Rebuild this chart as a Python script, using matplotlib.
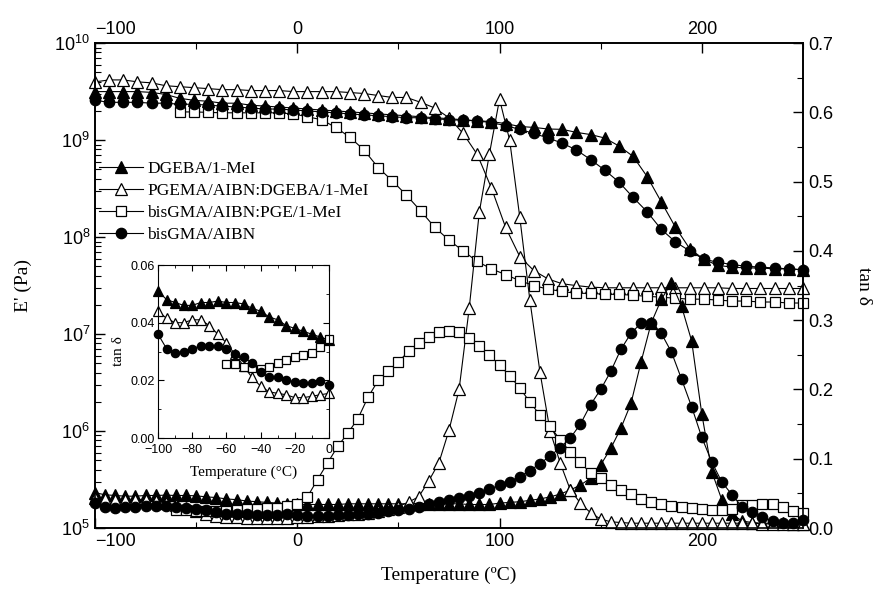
import matplotlib
matplotlib.use('Agg')
import matplotlib.pyplot as plt
from matplotlib.ticker import MultipleLocator, LogLocator, NullFormatter

plt.rcParams['font.family'] = ['Liberation Sans', 'DejaVu Sans']
plt.rcParams['mathtext.fontset'] = 'custom'
plt.rcParams['mathtext.rm'] = 'Liberation Sans'
SERIF = ['Liberation Serif', 'DejaVu Serif']

# temperature grids (deg C)
temp_mod = [-100, -93, -86, -79, -72, -65, -58, -51, -44, -37, -30, -23, -16, -9, -2,
            5, 12, 19, 26, 33, 40, 47, 54, 61, 68, 75, 82, 89, 96, 103, 110, 117, 124,
            131, 138, 145, 152, 159, 166, 173, 180, 187, 194, 201, 208, 215, 222, 229,
            236, 243, 250]
temp_tan = [-100, -95, -90, -85, -80, -75, -70, -65, -60, -55, -50, -45, -40, -35, -30,
            -25, -20, -15, -10, -5, 0, 5, 10, 15, 20, 25, 30, 35, 40, 45, 50, 55, 60,
            65, 70, 75, 80, 85, 90, 95, 100, 105, 110, 115, 120, 125, 130, 135, 140,
            145, 150, 155, 160, 165, 170, 175, 180, 185, 190, 195, 200, 205, 210, 215,
            220, 225, 230, 235, 240, 245, 250]
temp_mod_sq = temp_mod[6:]
temp_tan_sq = temp_tan[8:]

# storage modulus E' (Pa)
dgeba_E = [3.16e9, 3.16e9, 3.16e9, 3.16e9, 3.1e9, 2.95e9, 2.69e9, 2.57e9, 2.51e9, 2.40e9,
           2.40e9, 2.29e9, 2.24e9, 2.19e9, 2.14e9, 2.09e9, 2.04e9, 2.0e9, 1.95e9, 1.91e9,
           1.86e9, 1.82e9, 1.78e9, 1.74e9, 1.70e9, 1.66e9, 1.62e9, 1.58e9, 1.55e9, 1.48e9,
           1.38e9, 1.35e9, 1.30e9, 1.29e9, 1.20e9, 1.14e9, 1.05e9, 8.7e8, 6.8e8, 4.2e8,
           2.3e8, 1.26e8, 7.6e7, 5.9e7, 5.1e7, 4.9e7, 4.8e7, 4.8e7, 4.7e7, 4.7e7,
           4.6e7]
pgema_E = [3.98e9, 4.17e9, 4.17e9, 3.98e9, 3.89e9, 3.63e9, 3.55e9, 3.47e9, 3.39e9, 3.31e9,
           3.31e9, 3.24e9, 3.24e9, 3.24e9, 3.16e9, 3.16e9, 3.16e9, 3.16e9, 3.09e9, 3.02e9,
           2.88e9, 2.75e9, 2.75e9, 2.45e9, 2.14e9, 1.70e9, 1.17e9, 7.1e8, 3.2e8, 1.26e8,
           6.3e7, 4.5e7, 3.7e7, 3.3e7, 3.16e7, 3.05e7, 3.0e7, 3.0e7, 3.0e7, 3.0e7,
           3.0e7, 3.0e7, 3.0e7, 3.0e7, 3.0e7, 2.95e7, 2.95e7, 2.95e7, 2.95e7, 2.95e7,
           2.95e7]
bispge_E = [1.95e9, 1.95e9, 1.93e9, 1.91e9, 1.91e9, 1.91e9, 1.91e9, 1.91e9, 1.86e9,
            1.74e9, 1.62e9, 1.35e9, 1.07e9, 7.9e8, 5.2e8, 3.8e8, 2.7e8, 1.86e8, 1.26e8,
            9.3e7, 7.2e7, 5.6e7, 4.7e7, 4.1e7, 3.55e7, 3.16e7, 2.9e7, 2.75e7, 2.63e7,
            2.63e7, 2.57e7, 2.57e7, 2.51e7, 2.45e7, 2.40e7, 2.34e7, 2.29e7, 2.29e7, 2.24e7,
            2.19e7, 2.19e7, 2.14e7, 2.14e7, 2.09e7, 2.09e7]
bis_E = [2.57e9, 2.45e9, 2.45e9, 2.45e9, 2.40e9, 2.40e9, 2.34e9, 2.34e9, 2.29e9, 2.24e9,
         2.19e9, 2.14e9, 2.09e9, 2.09e9, 2.04e9, 2.0e9, 1.95e9, 1.91e9, 1.86e9, 1.82e9,
         1.78e9, 1.74e9, 1.70e9, 1.70e9, 1.66e9, 1.62e9, 1.60e9, 1.58e9, 1.51e9, 1.41e9,
         1.29e9, 1.17e9, 1.05e9, 9.3e8, 7.9e8, 6.3e8, 4.9e8, 3.7e8, 2.57e8, 1.82e8,
         1.20e8, 8.9e7, 7.2e7, 5.9e7, 5.5e7, 5.2e7, 5.0e7, 4.9e7, 4.8e7, 4.7e7,
         4.6e7]

# loss factor tan delta
dgeba_tan = [0.051, 0.048, 0.047, 0.046, 0.046, 0.047, 0.047, 0.0475, 0.047, 0.047,
             0.0465, 0.045, 0.044, 0.042, 0.041, 0.039, 0.038, 0.037, 0.036, 0.035, 0.034,
             0.034, 0.034, 0.034, 0.034, 0.035, 0.035, 0.035, 0.035, 0.035, 0.035,
             0.035, 0.035, 0.035, 0.035, 0.035, 0.035, 0.034, 0.034, 0.034, 0.036,
             0.037, 0.038, 0.040, 0.042, 0.045, 0.049, 0.055, 0.062, 0.072, 0.091,
             0.115, 0.144, 0.18, 0.24, 0.296, 0.33, 0.354, 0.32, 0.27, 0.165,
             0.081, 0.040, 0.020, 0.010, 0.008, 0.007, 0.007, 0.007, 0.006, 0.006]
pgema_tan = [0.044, 0.0415, 0.040, 0.040, 0.041, 0.041, 0.039, 0.036, 0.033, 0.029,
             0.025, 0.021, 0.018, 0.016, 0.0155, 0.015, 0.014, 0.014, 0.0145, 0.015, 0.0155,
             0.016, 0.017, 0.018, 0.019, 0.020, 0.021, 0.022, 0.024, 0.027, 0.031,
             0.0375, 0.045, 0.068, 0.094, 0.141, 0.20, 0.317, 0.456, 0.54, 0.619,
             0.56, 0.449, 0.329, 0.225, 0.14, 0.094, 0.055, 0.036, 0.022, 0.013,
             0.009, 0.008, 0.007, 0.007, 0.007, 0.007, 0.007, 0.007, 0.007, 0.007,
             0.007, 0.007, 0.007, 0.007, 0.007, 0.006, 0.006, 0.006, 0.006, 0.006]
bispge_tan = [0.0257, 0.0257, 0.0246, 0.0243, 0.024, 0.0246, 0.026, 0.027, 0.028, 0.0288,
              0.0295, 0.0316, 0.0343,
              0.045, 0.07, 0.094, 0.118, 0.137, 0.158, 0.189, 0.213, 0.227, 0.24,
              0.255, 0.267, 0.276, 0.283, 0.285, 0.283, 0.275, 0.263, 0.25, 0.235,
              0.22, 0.202, 0.182, 0.163, 0.147, 0.127, 0.11, 0.095, 0.079, 0.072,
              0.062, 0.055, 0.049, 0.042, 0.037, 0.035, 0.032, 0.030, 0.029, 0.027,
              0.026, 0.026, 0.027, 0.033, 0.033, 0.034, 0.035, 0.030, 0.024, 0.022]
bis_tan = [0.036, 0.031, 0.0295, 0.030, 0.031, 0.032, 0.032, 0.032, 0.031, 0.029,
           0.028, 0.026, 0.023, 0.021, 0.021, 0.020, 0.0195, 0.019, 0.019, 0.0198, 0.0184,
           0.018, 0.018, 0.018, 0.019, 0.019, 0.020, 0.021, 0.022, 0.024, 0.026,
           0.028, 0.030, 0.034, 0.037, 0.040, 0.043, 0.046, 0.050, 0.056, 0.062,
           0.067, 0.074, 0.083, 0.093, 0.104, 0.116, 0.130, 0.150, 0.178, 0.200,
           0.226, 0.258, 0.281, 0.296, 0.296, 0.281, 0.254, 0.215, 0.175, 0.131,
           0.095, 0.066, 0.048, 0.030, 0.023, 0.016, 0.010, 0.007, 0.007, 0.011]

labels = ['DGEBA/1-MeI', 'PGEMA/AIBN:DGEBA/1-MeI', 'bisGMA/AIBN:PGE/1-MeI', 'bisGMA/AIBN']
styles = [dict(marker='^', ms=9, mfc='black'),
          dict(marker='^', ms=9, mfc='white'),
          dict(marker='s', ms=7, mfc='white'),
          dict(marker='o', ms=7.5, mfc='black')]
mod_data = [(temp_mod, dgeba_E), (temp_mod, pgema_E), (temp_mod_sq, bispge_E), (temp_mod, bis_E)]
tan_data = [(temp_tan, dgeba_tan), (temp_tan, pgema_tan), (temp_tan_sq, bispge_tan), (temp_tan, bis_tan)]

fig = plt.figure(figsize=(8.75, 5.9), dpi=100)
ax = fig.add_axes([0.1086, 0.105, 0.809, 0.822])
ax2 = ax.twinx()

for (t, e), (tt, d), st, lab in zip(mod_data, tan_data, styles, labels):
    ax.plot(t, e, color='black', lw=0.8, mec='black', mew=0.9, label=lab, clip_on=False, **st)
    ax2.plot(tt, d, color='black', lw=0.8, mec='black', mew=0.9, clip_on=False, **st)

ax.set_xlim(-100, 250)
ax.set_yscale('log')
ax.set_ylim(1e5, 1e10)
ax2.set_ylim(0, 0.7)

ax.set_xticks([-100, 0, 100, 200])
ax.xaxis.set_minor_locator(MultipleLocator(50))
ax.yaxis.set_major_locator(LogLocator(base=10, numticks=10))
ax.yaxis.set_minor_locator(LogLocator(base=10, subs=range(2, 10), numticks=20))
ax.yaxis.set_minor_formatter(NullFormatter())
ax2.yaxis.set_major_locator(MultipleLocator(0.1))
ax2.yaxis.set_minor_locator(MultipleLocator(0.05))
ax2.yaxis.set_major_formatter(plt.FuncFormatter(lambda v, p: '%.1f' % v))

ax.tick_params(which='both', direction='in', top=True, labeltop=True, labelsize=13)
ax.tick_params(which='major', length=7, width=1)
ax.tick_params(which='minor', length=4, width=0.8)
ax2.tick_params(which='both', direction='in', labelsize=13)
ax2.tick_params(which='major', length=7, width=1)
ax2.tick_params(which='minor', length=4, width=0.8)
for a in (ax, ax2):
    for sp in a.spines.values():
        sp.set_linewidth(1.2)

# first temperature label sits to the right of its tick, clear of 10^5
first = ax.xaxis.get_major_ticks()[0]
first.label1.set_horizontalalignment('left')
first.label2.set_horizontalalignment('left')

ax.set_xlabel('Temperature (ºC)', family=SERIF, fontsize=14, labelpad=12)
ax.set_ylabel("E' (Pa)", family=SERIF, fontsize=14, labelpad=16)
ax2.set_ylabel('tan δ', family=SERIF, fontsize=14, rotation=270, labelpad=28)

ax.legend(loc='upper left', bbox_to_anchor=(0.006, 0.758), frameon=False,
          prop={'family': SERIF, 'size': 12.5}, handlelength=2.5, handletextpad=0.25,
          labelspacing=0.35, borderpad=0, borderaxespad=0)

# inset: low temperature tan delta
ins = fig.add_axes([0.1806, 0.2576, 0.1954, 0.2932])
for (tt, d), st in zip(tan_data, styles):
    pts = [(x, y) for x, y in zip(tt, d) if x <= 0]
    ins.plot([p[0] for p in pts], [p[1] for p in pts], color='black', lw=0.8,
             mec='black', mew=0.9, clip_on=False, marker=st['marker'],
             ms=st['ms'] * 0.8, mfc=st['mfc'])
ins.set_xlim(-100, 0)
ins.set_ylim(0, 0.06)
ins.set_xticks([-100, -80, -60, -40, -20, 0])
ins.xaxis.set_minor_locator(MultipleLocator(10))
ins.yaxis.set_major_locator(MultipleLocator(0.02))
ins.yaxis.set_minor_locator(MultipleLocator(0.01))
ins.yaxis.set_major_formatter(plt.FuncFormatter(lambda v, p: '%.2f' % v))
ins.tick_params(which='both', direction='in', top=True, right=True, labelsize=9)
ins.tick_params(axis='x', pad=4.5)
ins.tick_params(axis='y', pad=2.5)
ins.tick_params(which='major', length=4)
ins.tick_params(which='minor', length=2.5)
ins.set_xlabel('Temperature (°C)', family=SERIF, fontsize=11, labelpad=7)
ins.set_ylabel('tan δ', family=SERIF, fontsize=11, labelpad=4)

fig.savefig('out.png', dpi=100)
